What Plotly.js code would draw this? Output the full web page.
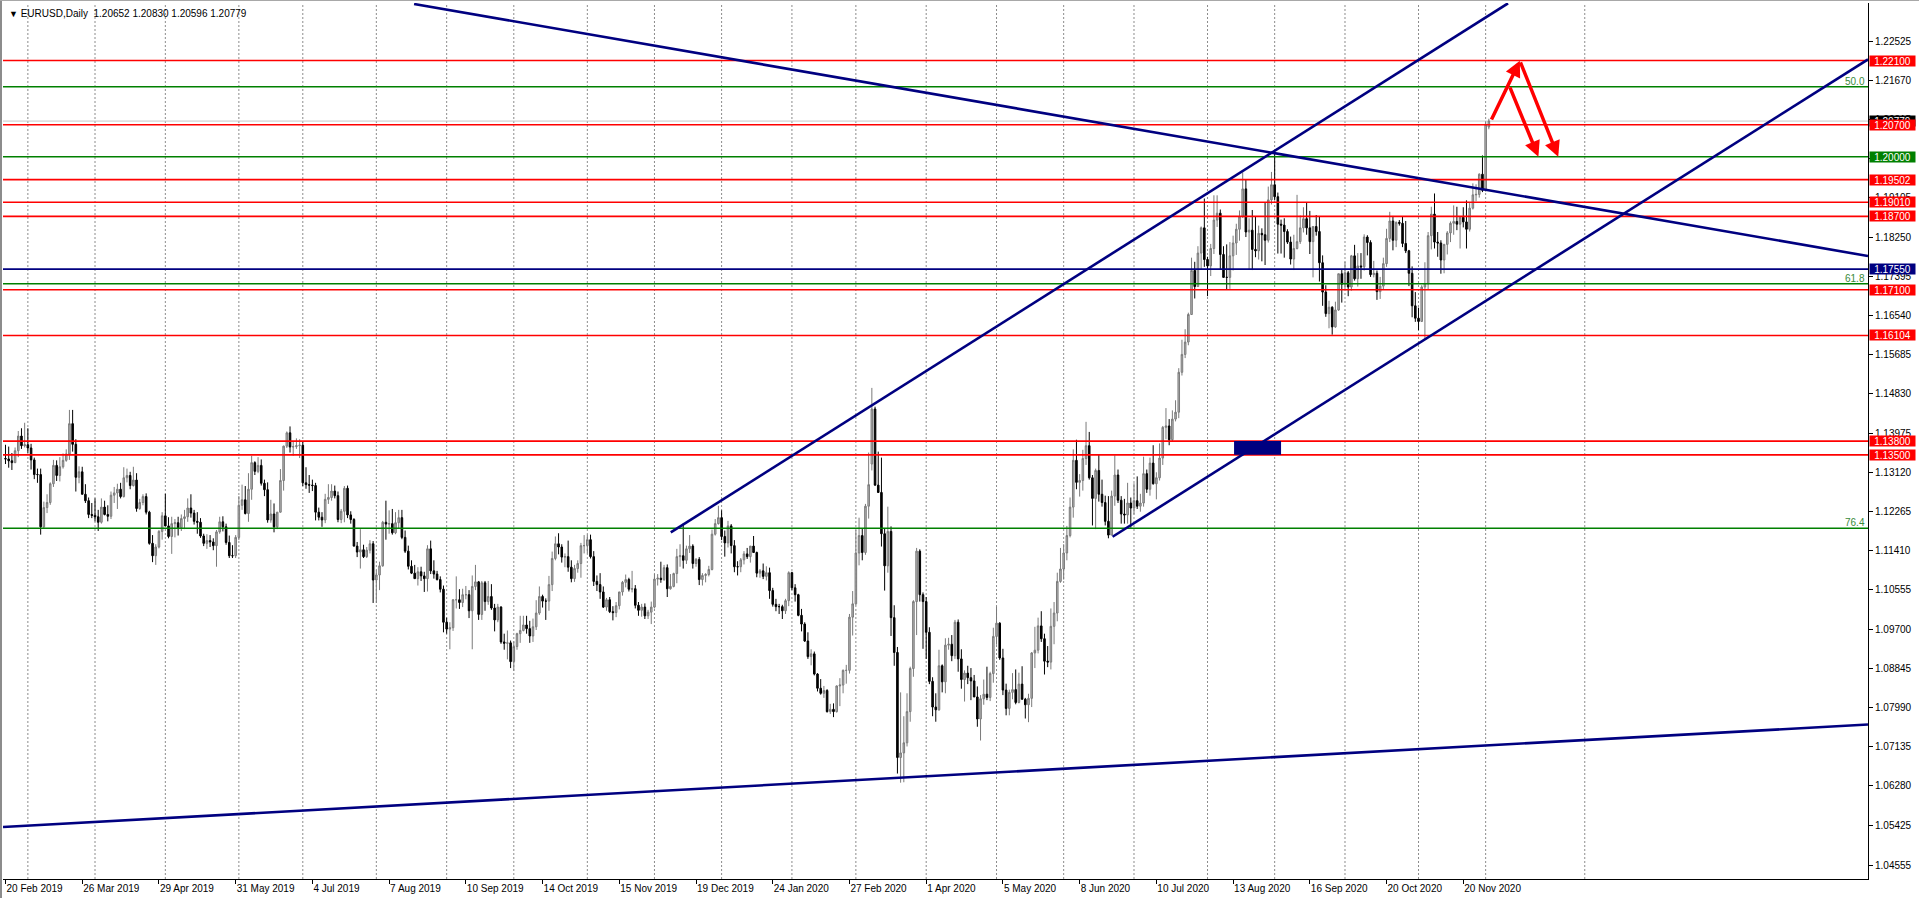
<!DOCTYPE html>
<html><head><meta charset="utf-8">
<script src="https://cdn.plot.ly/plotly-3.0.1.min.js"></script>
<style>
html,body{margin:0;padding:0;background:#fff;overflow:hidden}
#chart{position:absolute;left:0;top:0;width:1919px;height:898px}
#frameL{position:absolute;left:0;top:0;width:2px;height:898px;background:#8c8c8c}
#frameT{position:absolute;left:0;top:0;width:1919px;height:1px;background:#a8a8a8}
</style>
</head><body><div id="chart"></div><div id="frameL"></div><div id="frameT"></div>
<script>
// ---------------- DATA (daily EURUSD bars, [open, high, low, close] in pips above 1.0000) ----------------
const feb19=[[1342,1372,1330,1341],[1341,1368,1322,1337],[1337,1354,1317,1333],[1333,1366,1332,1359],[1359,1402,1345,1391],[1391,1408,1363,1370],[1370,1420,1366,1372]];
const mar19=[[1372,1408,1354,1365],[1365,1374,1318,1339],[1339,1344,1297,1307],[1307,1320,1289,1307],[1307,1320,1176,1193],[1193,1248,1190,1235],[1235,1264,1223,1246],[1246,1290,1241,1287],[1287,1339,1280,1327],[1327,1338,1293,1305],[1305,1345,1292,1324],[1324,1353,1320,1338],[1338,1362,1335,1352],[1352,1448,1339,1418],[1418,1448,1357,1373],[1373,1384,1270,1301],[1301,1325,1288,1313],[1313,1324,1264,1264],[1264,1286,1245,1250],[1250,1257,1212,1220],[1220,1245,1212,1218]];
const apr19=[[1218,1255,1205,1215],[1215,1230,1184,1203],[1203,1255,1200,1236],[1236,1250,1218,1220],[1220,1240,1205,1216],[1216,1270,1210,1262],[1262,1280,1245,1267],[1267,1287,1232,1275],[1275,1289,1255,1259],[1259,1323,1257,1300],[1300,1320,1290,1305],[1305,1313,1275,1283],[1283,1324,1281,1295],[1295,1310,1226,1233],[1233,1254,1230,1246],[1246,1264,1240,1259],[1259,1266,1220,1225],[1225,1228,1154,1157],[1157,1175,1116,1130],[1130,1155,1110,1149],[1149,1186,1146,1183],[1183,1225,1165,1217]];
const may19=[[1217,1265,1195,1195],[1195,1214,1168,1172],[1172,1215,1134,1200],[1200,1210,1170,1202],[1202,1215,1174,1191],[1191,1220,1184,1211],[1211,1230,1188,1215],[1215,1255,1204,1234],[1234,1264,1213,1223],[1223,1230,1198,1205],[1205,1225,1178,1203],[1203,1212,1169,1173],[1173,1178,1151,1157],[1157,1177,1145,1163],[1163,1175,1149,1160],[1160,1168,1142,1152],[1152,1186,1106,1182],[1182,1215,1178,1204],[1204,1216,1183,1193],[1193,1200,1154,1159],[1159,1174,1125,1130],[1130,1153,1125,1130],[1130,1175,1125,1170]];
const jun19=[[1170,1260,1164,1240],[1240,1285,1230,1252],[1252,1282,1220,1222],[1222,1310,1204,1275],[1275,1348,1252,1333],[1333,1336,1306,1314],[1314,1345,1310,1327],[1327,1340,1283,1288],[1288,1296,1260,1274],[1274,1290,1202,1208],[1208,1252,1202,1221],[1221,1244,1181,1193],[1193,1225,1188,1225],[1225,1319,1224,1294],[1294,1370,1272,1369],[1369,1401,1365,1398],[1398,1412,1355,1367],[1367,1380,1348,1368],[1368,1386,1363,1370],[1370,1384,1343,1371]];
const jul19=[[1371,1378,1282,1289],[1289,1323,1276,1285],[1285,1306,1267,1284],[1284,1296,1271,1283],[1283,1289,1207,1225],[1225,1235,1207,1214],[1214,1225,1193,1208],[1208,1265,1201,1253],[1253,1286,1243,1257],[1257,1286,1250,1271],[1271,1283,1255,1261],[1261,1270,1203,1209],[1209,1232,1201,1227],[1227,1282,1203,1277],[1277,1283,1212,1219],[1219,1227,1200,1209],[1209,1212,1150,1151],[1151,1160,1127,1138],[1138,1188,1102,1143],[1143,1154,1125,1128],[1128,1149,1125,1142],[1142,1164,1135,1156],[1156,1162,1027,1077]];
const aug19=[[1077,1098,1027,1088],[1088,1117,1055,1108],[1108,1206,1106,1203],[1203,1250,1165,1199],[1199,1229,1178,1200],[1200,1232,1176,1180],[1180,1225,1177,1202],[1202,1230,1190,1213],[1213,1230,1166,1170],[1170,1185,1136,1140],[1140,1152,1100,1107],[1107,1120,1090,1092],[1092,1110,1080,1080],[1080,1105,1065,1095],[1095,1106,1075,1086],[1086,1095,1051,1080],[1080,1153,1052,1145],[1145,1163,1090,1097],[1097,1120,1080,1090],[1090,1097,1076,1078],[1078,1085,1050,1057],[1057,1065,963,985]];
const sep19=[[985,995,960,970],[970,985,926,973],[973,1035,966,1034],[1034,1085,1015,1034],[1034,1057,1014,1028],[1028,1058,1018,1045],[1045,1064,1035,1045],[1045,1055,994,1010],[1010,1087,926,1063],[1063,1110,1055,1073],[1073,1075,990,1002],[1002,1075,990,1071],[1071,1075,1010,1030],[1030,1075,1023,1041],[1041,1068,1012,1016],[1016,1025,965,990],[990,1025,985,1018],[1018,1020,938,942],[942,960,925,939],[939,967,904,940],[940,945,885,899]];
const oct19=[[899,943,879,932],[932,962,925,960],[960,999,940,967],[967,999,965,979],[979,999,960,971],[971,988,940,955],[955,993,942,975],[975,1033,968,1005],[1005,1063,1001,1041],[1041,1045,1017,1031],[1031,1037,990,1031],[1031,1086,1010,1067],[1067,1139,1053,1124],[1124,1172,1120,1156],[1156,1179,1133,1149],[1149,1155,1115,1127],[1127,1135,1105,1128],[1128,1163,1095,1105],[1105,1120,1072,1080],[1080,1110,1073,1102],[1102,1120,1093,1113],[1113,1158,1082,1152],[1152,1175,1135,1152]];
const nov19=[[1152,1176,1135,1165],[1165,1176,1124,1128],[1128,1140,1064,1074],[1074,1087,1053,1067],[1067,1092,1036,1051],[1051,1063,1016,1018],[1018,1038,1010,1034],[1034,1040,1005,1008],[1008,1020,989,1006],[1006,1029,996,1021],[1021,1051,1013,1051],[1051,1075,1043,1072],[1072,1089,1061,1078],[1078,1082,1052,1057],[1057,1097,1050,1058],[1058,1066,1015,1022],[1022,1029,999,1011],[1011,1025,997,1018],[1018,1026,992,999],[999,1012,992,1007],[1007,1030,981,1018]];
const dec19=[[1018,1090,1015,1079],[1079,1090,1065,1081],[1081,1117,1071,1078],[1078,1110,1075,1104],[1104,1111,1040,1058],[1058,1090,1056,1063],[1063,1093,1061,1091],[1091,1145,1070,1128],[1128,1155,1106,1130],[1130,1200,1102,1120],[1120,1152,1112,1145],[1145,1175,1136,1151],[1151,1155,1102,1113],[1113,1125,1106,1122],[1122,1127,1066,1078],[1078,1092,1065,1087],[1087,1092,1072,1089],[1089,1108,1085,1100],[1100,1187,1098,1177],[1177,1210,1174,1200],[1200,1239,1198,1213]];
const jan20=[[1213,1229,1164,1172],[1172,1185,1128,1158],[1158,1206,1148,1195],[1195,1199,1135,1152],[1152,1164,1094,1106],[1106,1118,1087,1106],[1106,1125,1094,1121],[1121,1140,1111,1134],[1134,1147,1123,1128],[1128,1151,1115,1151],[1151,1173,1137,1137],[1137,1139,1083,1092],[1092,1101,1082,1097],[1097,1113,1079,1085],[1085,1107,1076,1093],[1093,1104,1036,1054],[1054,1060,1019,1024],[1024,1036,1009,1019],[1019,1025,1003,1019],[1019,1023,992,1010],[1010,1036,1003,1032],[1032,1096,1020,1093]];
const feb20=[[1093,1095,1055,1060],[1060,1068,1030,1045],[1045,1047,998,1000],[1000,1014,965,981],[981,985,942,944],[944,963,905,910],[910,926,891,916],[916,921,869,872],[872,874,834,841],[841,861,827,830],[830,846,820,836],[836,839,788,790],[790,807,785,795],[795,808,778,790],[790,847,788,846],[846,863,802,848],[848,882,830,880],[880,892,851,880],[880,1003,873,996],[996,1053,956,1025]];
const mar20=[[1025,1186,1022,1136],[1136,1213,1109,1174],[1174,1190,1120,1137],[1137,1243,1132,1238],[1238,1355,1211,1285],[1330,1496,1316,1450],[1450,1455,1282,1284],[1284,1357,1267,1268],[1268,1344,1150,1178],[1178,1190,1054,1108],[1108,1237,1093,1183],[1183,1194,955,995],[995,1022,890,919],[919,931,655,690],[690,832,635,700],[700,780,636,722],[722,830,714,790],[790,888,768,884],[884,1033,866,1030],[1030,1147,957,1140],[1140,1144,1030,1045],[1045,1050,927,1030]];
const apr20=[[1030,1040,905,963],[963,974,850,856],[856,865,780,800],[800,830,768,794],[794,925,792,890],[890,893,832,855],[855,950,830,935],[935,951,925,937],[937,957,900,912],[912,990,905,985],[985,991,877,905],[905,926,840,860],[860,880,812,874],[874,890,850,864],[864,885,815,857],[857,870,822,822],[822,845,757,774],[774,826,727,818],[818,860,805,828],[828,888,815,821],[821,877,813,873],[873,973,853,954]];
const may20=[[954,1019,936,983],[983,985,903,907],[907,927,826,837],[837,851,782,797],[797,838,782,832],[832,874,817,838],[838,882,806,810],[810,875,808,850],[850,889,816,817],[817,820,775,805],[805,829,767,819],[819,920,800,918],[918,975,885,924],[924,995,917,977],[977,1009,942,949],[949,960,871,900],[900,933,887,898],[898,1015,882,976],[976,1029,937,1005],[1005,1093,987,1074],[1074,1147,1071,1101]];
const jun20=[[1101,1155,1078,1136],[1136,1195,1120,1174],[1174,1257,1170,1236],[1236,1362,1213,1338],[1338,1383,1275,1290],[1290,1308,1259,1294],[1294,1361,1272,1342],[1342,1422,1328,1370],[1370,1400,1296,1300],[1300,1306,1196,1255],[1255,1320,1188,1316],[1316,1350,1248,1264],[1264,1296,1237,1246],[1246,1261,1196,1205],[1205,1260,1168,1175],[1175,1272,1175,1260],[1260,1349,1239,1306],[1306,1318,1245,1251],[1251,1260,1200,1221],[1221,1254,1200,1219],[1219,1289,1200,1245],[1245,1257,1191,1234]];
const jul20=[[1234,1288,1220,1250],[1250,1303,1232,1238],[1238,1265,1226,1245],[1245,1346,1237,1309],[1309,1318,1267,1275],[1275,1344,1261,1332],[1332,1371,1285,1287],[1287,1312,1253,1300],[1300,1375,1294,1343],[1343,1413,1328,1410],[1410,1452,1384,1413],[1413,1428,1371,1383],[1383,1447,1380,1428],[1428,1469,1423,1443],[1443,1539,1430,1530],[1530,1601,1523,1569],[1569,1624,1561,1596],[1596,1660,1589,1656],[1656,1780,1655,1752],[1752,1771,1691,1717],[1717,1805,1717,1790],[1790,1848,1754,1845],[1845,1909,1760,1776]];
const aug20=[[1776,1782,1696,1762],[1762,1810,1740,1800],[1800,1916,1788,1862],[1862,1916,1847,1877],[1877,1885,1754,1787],[1787,1805,1737,1737],[1737,1809,1711,1737],[1737,1814,1712,1784],[1784,1828,1752,1812],[1812,1854,1786,1842],[1842,1883,1817,1869],[1869,1966,1867,1930],[1930,1951,1825,1836],[1836,1866,1754,1840],[1840,1884,1753,1798],[1798,1870,1781,1795],[1795,1850,1776,1833],[1833,1844,1772,1830],[1830,1900,1764,1818],[1818,1935,1813,1906],[1906,1967,1896,1939]];
const sep20=[[1939,2011,1905,1913],[1913,1922,1789,1853],[1853,1863,1789,1851],[1851,1866,1780,1837],[1837,1842,1810,1814],[1814,1826,1765,1777],[1777,1830,1753,1800],[1800,1917,1798,1815],[1815,1872,1810,1845],[1845,1890,1835,1865],[1865,1900,1830,1845],[1845,1882,1788,1815],[1815,1825,1737,1848],[1848,1873,1828,1837],[1837,1870,1728,1769],[1769,1785,1675,1705],[1705,1720,1651,1658],[1658,1686,1626,1672],[1672,1674,1612,1629],[1629,1684,1627,1666],[1666,1745,1664,1745],[1745,1753,1682,1722]];
const oct20=[[1722,1771,1710,1747],[1747,1751,1696,1716],[1716,1786,1708,1784],[1784,1808,1730,1734],[1734,1790,1717,1762],[1762,1790,1734,1760],[1760,1831,1752,1825],[1825,1829,1785,1813],[1813,1818,1738,1743],[1743,1773,1737,1746],[1746,1752,1688,1706],[1706,1738,1690,1718],[1718,1780,1711,1767],[1767,1843,1760,1822],[1822,1880,1814,1860],[1860,1871,1796,1818],[1818,1859,1803,1857],[1857,1862,1850,1855],[1855,1870,1803,1811],[1811,1860,1790,1795],[1795,1797,1718,1746],[1746,1761,1650,1675],[1675,1705,1640,1648]];
const nov20=[[1648,1671,1622,1641],[1641,1720,1640,1716],[1716,1770,1603,1723],[1723,1836,1711,1828],[1828,1891,1798,1875],[1875,1920,1800,1814],[1814,1836,1782,1812],[1812,1818,1745,1775],[1775,1810,1746,1809],[1809,1838,1787,1834],[1834,1859,1814,1855],[1855,1894,1830,1859],[1859,1891,1840,1853],[1853,1870,1800,1868],[1868,1890,1846,1858],[1858,1905,1800,1842],[1842,1899,1837,1888],[1888,1942,1885,1917],[1917,1940,1903,1918],[1918,1964,1911,1962],[1962,2003,1923,1927]];
const dec20=[[1927,2077,1924,2071],[2065,2083,2060,2078]];

// calendar of the bars
const firstDay = Date.UTC(2019,1,20), lastDay = Date.UTC(2020,11,2);
const extraBarDays = ['2020-10-25'];          // broker Sunday bar
const noBarDays = ['12-25','01-01'];
const monthNames = ['Jan','Feb','Mar','Apr','May','Jun','Jul','Aug','Sep','Oct','Nov','Dec'];
const xTickLabels = ['20 Feb 2019','26 Mar 2019','29 Apr 2019','31 May 2019','4 Jul 2019','7 Aug 2019','10 Sep 2019','14 Oct 2019','15 Nov 2019','19 Dec 2019','24 Jan 2020','27 Feb 2020','1 Apr 2020','5 May 2020','8 Jun 2020','10 Jul 2020','13 Aug 2020','16 Sep 2020','20 Oct 2020','20 Nov 2020'];
const futureGridDay = Date.UTC(2021,0,1);

// price scale ticks
const yTicks = [1.04555,1.05425,1.06280,1.07135,1.07990,1.08845,1.09700,1.10555,1.11410,1.12265,1.13120,1.13975,1.14830,1.15685,1.16540,1.17395,1.18250,1.19105,1.19960,1.20815,1.21670,1.22525];

// horizontal levels
const redLevels = [1.22100,1.20700,1.19502,1.19010,1.18700,1.17100,1.16104,1.13800,1.13500];
const greenLevels = [1.20000];
const navyLevels = [1.17550];
const fibLevels = [1.2153,1.1723,1.1190];
const fibTexts = ['50.0','61.8','76.4'];
const bidPrice = 1.20779;
const headerSymbol = 'EURUSD,Daily';
const headerOHLC = ['1.20652','1.20830','1.20596','1.20779'];

// drawn objects: [barIndex0, price0, barIndex1, price1]
const trendLines = [[127.8,1.23332,582.6,1.17836],[208.1,1.11809,470.0,1.23348],[346.3,1.11714,582.6,1.22125],[-0.78,1.05384,582.6,1.07619]];
const boxZone = [384.3,1.1350,399.0,1.1380];
const redArrows = [[464.6,1.20779,473.7,1.22094],[473.7,1.22094,485.7,1.19999],[470.4,1.21547,479.5,1.20000]];

// ---------------- BUILD ----------------
const dates=[];
for(let t=firstDay;t<=lastDay;t+=86400000){
  const d=new Date(t), wd=d.getUTCDay(), iso=d.toISOString().slice(0,10);
  if(extraBarDays.includes(iso) || (wd>0 && wd<6 && !noBarDays.includes(iso.slice(5)))) dates.push(d);
}
const bars=[].concat(feb19,mar19,apr19,may19,jun19,jul19,aug19,sep19,oct19,nov19,dec19,jan20,feb20,mar20,apr20,may20,jun20,jul20,aug20,sep20,oct20,nov20,dec20);
if(bars.length!==dates.length) console.warn('bars',bars.length,'dates',dates.length);
const n=Math.min(bars.length,dates.length);
const px=v=>1+v/10000;
const X=[],O=[],Hh=[],Lw=[],C=[];
for(let i=0;i<n;i++){X.push(i);O.push(px(bars[i][0]));Hh.push(px(bars[i][1]));Lw.push(px(bars[i][2]));C.push(px(bars[i][3]));}
const fmt=d=>d.getUTCDate()+' '+monthNames[d.getUTCMonth()]+' '+d.getUTCFullYear();
const tickIdx=xTickLabels.map(l=>dates.findIndex(d=>fmt(d)===l));

const W=1919,H=898,mL=3,mR=51,mT=3,mB=19;
const xRange=[-0.78,582.6], yRange=[1.04250,1.23354];
const FONT='Liberation Sans, Arial, sans-serif';

const shapes=[], annotations=[];
// month grid
const gridIdx=[];
for(let i=1;i<dates.length;i++) if(dates[i].getUTCMonth()!==dates[i-1].getUTCMonth()) gridIdx.push(i);
gridIdx.push(dates.length-1+Math.round((futureGridDay-dates[dates.length-1].getTime())/86400000));
gridIdx.forEach(i=>shapes.push({type:'line',xref:'x',yref:'paper',x0:i,x1:i,y0:0,y1:1,layer:'below',line:{color:'#8c8c8c',width:1,dash:'2px,2px'}}));
// bid line
shapes.push({type:'line',xref:'paper',yref:'y',x0:0,x1:1,y0:bidPrice,y1:bidPrice,layer:'below',line:{color:'#c8c8c8',width:1}});
const hline=(p,c,w)=>shapes.push({type:'line',xref:'paper',yref:'y',x0:0,x1:1,y0:p,y1:p,line:{color:c,width:w}});
fibLevels.forEach(p=>hline(p,'#008000',1.5));
redLevels.forEach(p=>hline(p,'#ff0000',1.6));
greenLevels.forEach(p=>hline(p,'#008000',1.6));
navyLevels.forEach(p=>hline(p,'#000080',1.6));
trendLines.forEach(t=>shapes.push({type:'line',xref:'x',yref:'y',x0:t[0],y0:t[1],x1:t[2],y1:t[3],line:{color:'#000080',width:2.6}}));
shapes.push({type:'rect',xref:'x',yref:'y',x0:boxZone[0],y0:boxZone[1],x1:boxZone[2],y1:boxZone[3],fillcolor:'#000080',line:{width:0}});

// right-side price labels (boxes cover the scale labels behind them, later ones on top)
const priceLabel=(p,bg)=>annotations.push({xref:'paper',yref:'y',x:1,y:p,xanchor:'left',yanchor:'middle',xshift:1,
  showarrow:false,text:p.toFixed(5),bgcolor:bg,borderpad:0,width:45,height:10,align:'center',valign:'middle',
  font:{family:FONT,size:10,color:'#ffffff'}});
priceLabel(bidPrice,'#000000');
redLevels.forEach(p=>priceLabel(p,'#ff0000'));
greenLevels.forEach(p=>priceLabel(p,'#008000'));
navyLevels.forEach(p=>priceLabel(p,'#000080'));
fibLevels.forEach((p,i)=>annotations.push({xref:'paper',yref:'y',x:1,y:p,xanchor:'right',yanchor:'bottom',xshift:-1,yshift:-2,showarrow:false,text:fibTexts[i],font:{family:FONT,size:10,color:'#3a8a3a'}}));
redArrows.forEach(a=>annotations.push({xref:'x',yref:'y',axref:'x',ayref:'y',ax:a[0],ay:a[1],x:a[2],y:a[3],text:'',showarrow:true,arrowhead:2,arrowsize:0.9,arrowwidth:3.5,arrowcolor:'#ff0000',standoff:0,startstandoff:0}));
annotations.push({xref:'paper',yref:'paper',x:0,y:1,xanchor:'left',yanchor:'top',xshift:4,yshift:-3,showarrow:false,
  text:'<span style="font-size:9px">\u25BC</span> '+headerSymbol+'  '+headerOHLC.join(' '),font:{family:FONT,size:10,color:'#000'}});

const trace={type:'candlestick',x:X,open:O,high:Hh,low:Lw,close:C,whiskerwidth:0,hoverinfo:'skip',showlegend:false,
  increasing:{line:{color:'#7a7a7a',width:1},fillcolor:'#b4b4b4'},
  decreasing:{line:{color:'#000000',width:1},fillcolor:'#000000'}};

const layout={width:W,height:H,margin:{l:mL,r:mR,t:mT,b:mB,pad:0},paper_bgcolor:'#ffffff',plot_bgcolor:'#ffffff',showlegend:false,
  font:{family:FONT,size:10,color:'#000'},
  xaxis:{type:'linear',range:xRange,fixedrange:true,showgrid:false,zeroline:false,showline:true,linecolor:'#000',linewidth:1,
    ticks:'outside',ticklen:4,tickcolor:'#000',tickvals:tickIdx,ticktext:xTickLabels,ticklabelposition:'outside right',
    tickfont:{family:FONT,size:10,color:'#000'},rangeslider:{visible:false}},
  yaxis:{side:'right',range:yRange,fixedrange:true,showgrid:false,zeroline:false,showline:true,linecolor:'#000',linewidth:1,
    ticks:'outside',ticklen:4,tickcolor:'#000',tickvals:yTicks,ticktext:yTicks.map(v=>v.toFixed(5)),
    tickfont:{family:FONT,size:10,color:'#000'}},
  shapes:shapes,annotations:annotations};
Plotly.newPlot('chart',[trace],layout,{staticPlot:true,displayModeBar:false});
</script></body></html>
